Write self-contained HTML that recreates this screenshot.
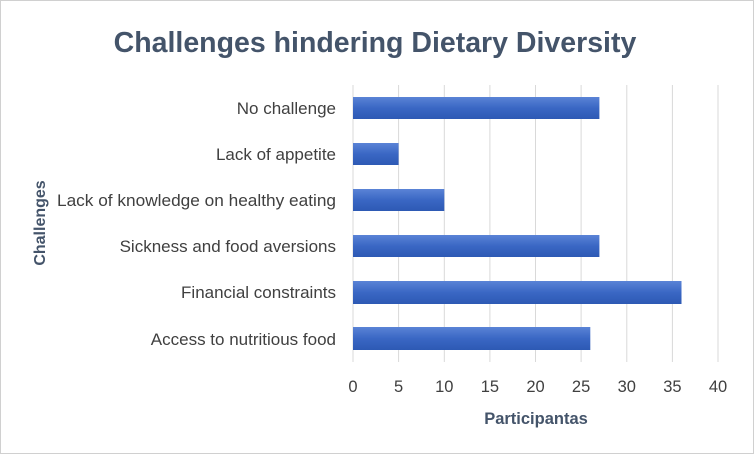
<!DOCTYPE html>
<html><head><style>
body{margin:0;background:#fff;}
svg{display:block;font-family:"Liberation Sans",Calibri,sans-serif;}
</style></head><body>
<svg width="754" height="454" viewBox="0 0 754 454">
<defs><linearGradient id="g" x1="0" y1="0" x2="0" y2="1">
<stop offset="0" stop-color="#5a83d6"/><stop offset="0.5" stop-color="#3a67c4"/><stop offset="1" stop-color="#2d59b4"/></linearGradient></defs>
<rect x="0.5" y="0.5" width="753" height="453" fill="#fff" stroke="#d0d0d0"/>
<text x="375" y="52" text-anchor="middle" font-size="28.5" font-weight="bold" fill="#44546a">Challenges hindering Dietary Diversity</text>
<g stroke="#d9d9d9" stroke-width="1">
<line x1="353" y1="85" x2="353" y2="362"/><line x1="398.6" y1="85" x2="398.6" y2="362"/><line x1="444.3" y1="85" x2="444.3" y2="362"/><line x1="489.9" y1="85" x2="489.9" y2="362"/><line x1="535.5" y1="85" x2="535.5" y2="362"/><line x1="581.1" y1="85" x2="581.1" y2="362"/><line x1="626.8" y1="85" x2="626.8" y2="362"/><line x1="672.4" y1="85" x2="672.4" y2="362"/><line x1="718" y1="85" x2="718" y2="362"/>
</g>
<g fill="url(#g)">
<rect x="353" y="97" width="246.4" height="22"/>
<rect x="353" y="143" width="45.6" height="22"/>
<rect x="353" y="189" width="91.3" height="22"/>
<rect x="353" y="235" width="246.4" height="22"/>
<rect x="353" y="281" width="328.5" height="23"/>
<rect x="353" y="327" width="237.3" height="23"/>
</g>
<g font-size="17" fill="#404040" text-anchor="end">
<text x="336" y="114">No challenge</text>
<text x="336" y="160">Lack of appetite</text>
<text x="336" y="206" textLength="279" lengthAdjust="spacingAndGlyphs">Lack of knowledge on healthy eating</text>
<text x="336" y="252">Sickness and food aversions</text>
<text x="336" y="298">Financial constraints</text>
<text x="336" y="345">Access to nutritious food</text>
</g>
<g font-size="16.5" fill="#404040" text-anchor="middle">
<text x="353" y="392">0</text><text x="398.6" y="392">5</text><text x="444.3" y="392">10</text><text x="489.9" y="392">15</text><text x="535.5" y="392">20</text><text x="581.1" y="392">25</text><text x="626.8" y="392">30</text><text x="672.4" y="392">35</text><text x="718" y="392">40</text>
</g>
<text x="536" y="424" text-anchor="middle" font-size="16.5" font-weight="bold" fill="#44546a">Participantas</text>
<text transform="translate(45,223) rotate(-90)" text-anchor="middle" font-size="16" font-weight="bold" fill="#44546a">Challenges</text>
</svg>
</body></html>
